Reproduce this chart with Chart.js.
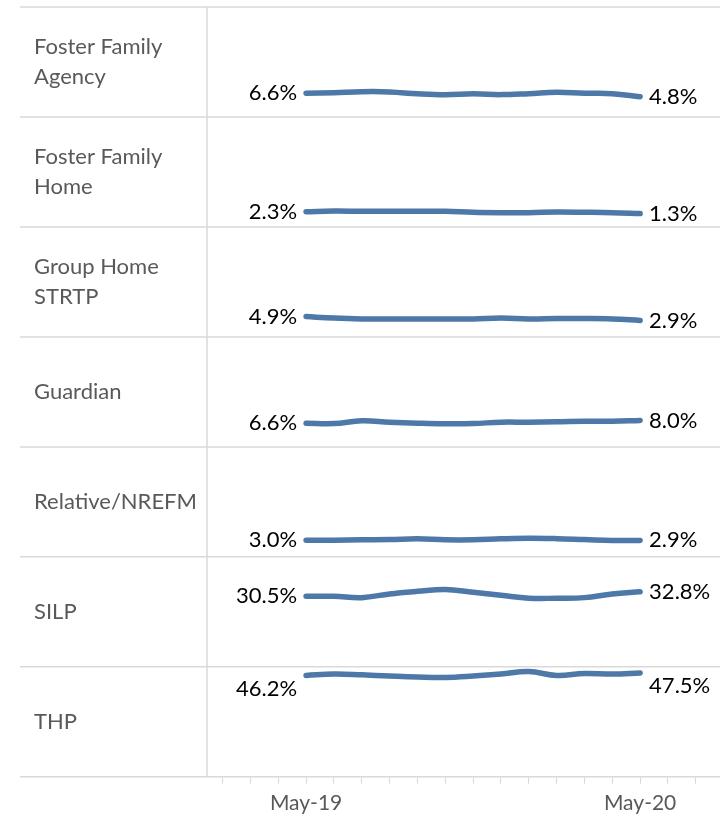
<!DOCTYPE html>
<html>
<head>
<meta charset="utf-8">
<script src="https://cdn.jsdelivr.net/npm/chart.js@4"></script>
<style>
    html, body { margin: 0; padding: 0; background: #fff; }
    #wrap { width: 720px; height: 816px; }
</style>
</head>
<body>
<div id="wrap"><canvas id="placementChart"></canvas></div>
<script>
/* ======================================================
   DATA
====================================================== */
const months = [
    'May-19', 'Jun-19', 'Jul-19', 'Aug-19', 'Sep-19', 'Oct-19', 'Nov-19',
    'Dec-19', 'Jan-20', 'Feb-20', 'Mar-20', 'Apr-20', 'May-20'
];

const categories = [
    ['Foster Family', 'Agency'],
    ['Foster Family', 'Home'],
    ['Group Home', 'STRTP'],
    ['Guardian'],
    ['Relative/NREFM'],
    ['SILP'],
    ['THP']
];

const fosterFamilyAgency = [6.6, 6.9, 7.4, 7.3, 6.3, 5.8, 6.3, 5.9, 6.4, 7.1, 6.6, 6.4, 4.8];
const fosterFamilyHome   = [2.3, 2.6, 2.5, 2.5, 2.5, 2.5, 2.0, 1.8, 1.8, 2.1, 2.0, 1.8, 1.3];
const groupHomeStrtp     = [4.9, 4.1, 3.7, 3.7, 3.7, 3.7, 3.7, 4.2, 3.7, 3.9, 3.9, 3.7, 2.9];
const guardian           = [6.6, 6.4, 7.8, 7.1, 6.6, 6.3, 6.4, 7.1, 7.1, 7.3, 7.6, 7.6, 8.0];
const relativeNrefm      = [3.0, 3.0, 3.2, 3.3, 3.7, 3.2, 3.2, 3.7, 4.0, 3.8, 3.3, 2.8, 2.9];
const silp               = [30.5, 30.5, 29.8, 31.7, 33.0, 34.0, 32.5, 31.0, 29.5, 29.5, 29.8, 31.7, 32.8];
const thp                = [46.2, 46.9, 46.5, 45.9, 45.4, 45.2, 45.9, 46.9, 48.2, 46.2, 47.2, 46.9, 47.5];

const series = [
    fosterFamilyAgency, fosterFamilyHome, groupHomeStrtp, guardian,
    relativeNrefm, silp, thp
];

/* ======================================================
   STYLE
====================================================== */
const LINE_COLOR = '#4e78a8';
const GRID_COLOR = '#d9d9d9';
const FONT = 'Lato, "Open Sans", sans-serif';

/* ======================================================
   SCALES (one stacked y axis per panel)
====================================================== */
const scales = {
    x: {
        type: 'linear',
        min: -3.56,
        max: 14.87,
        grid: {
            drawOnChartArea: false,
            color: GRID_COLOR,
            tickColor: GRID_COLOR,
            tickLength: 7
        },
        border: { color: GRID_COLOR, width: 1.5 },
        ticks: {
            stepSize: 1,
            autoSkip: false,
            includeBounds: false,
            maxRotation: 0,
            padding: 7,
            color: '#595959',
            font: { family: FONT, size: 21 },
            callback: v => (v === 0 || v === 12) ? months[v] : ''
        }
    }
};

// stacked axes are laid out last-defined on top, so add them bottom-up
for (let i = series.length - 1; i >= 0; i--) {
    scales['y' + i] = {
        type: 'linear',
        stack: 'panels',
        stackWeight: 1,
        min: -5.5,
        max: 50.6,
        grid: { display: false, drawTicks: false },
        border: { display: false },
        ticks: { display: false }
    };
}

/* ======================================================
   PLUGINS
====================================================== */
const panelFrame = {
    id: 'panelFrame',
    beforeDatasetsDraw(chart) {
        const { ctx, chartArea } = chart;
        ctx.save();
        ctx.strokeStyle = GRID_COLOR;
        ctx.lineWidth = 1.5;

        series.forEach((s, i) => {
            const axis = chart.scales['y' + i];
            ctx.beginPath();
            ctx.moveTo(20, axis.top);
            ctx.lineTo(chart.width, axis.top);
            ctx.stroke();
        });

        ctx.beginPath();
        ctx.moveTo(20, chartArea.bottom);
        ctx.lineTo(chartArea.left, chartArea.bottom);
        ctx.stroke();

        ctx.beginPath();
        ctx.moveTo(chartArea.left, chartArea.top);
        ctx.lineTo(chartArea.left, chartArea.bottom);
        ctx.stroke();

        // category names, centred in each panel
        ctx.fillStyle = '#595959';
        ctx.font = '22px ' + FONT;
        ctx.textAlign = 'left';
        ctx.textBaseline = 'middle';
        const lineH = 30;
        categories.forEach((lines, i) => {
            const axis = chart.scales['y' + i];
            const mid = (axis.top + axis.bottom) / 2;
            const y0 = mid - (lines.length - 1) * lineH / 2;
            lines.forEach((t, k) => ctx.fillText(t, 34, y0 + k * lineH));
        });
        ctx.restore();
    }
};

const endLabels = {
    id: 'endLabels',
    afterDatasetsDraw(chart) {
        const { ctx } = chart;
        ctx.save();
        ctx.fillStyle = '#000';
        ctx.font = '22px ' + FONT;
        ctx.textBaseline = 'middle';

        chart.data.datasets.forEach((ds, i) => {
            const pts = chart.getDatasetMeta(i).data;
            const first = pts[0];
            const last = pts[pts.length - 1];
            const dy = ds.labelBelow ? 13 : 0;

            ctx.textAlign = 'right';
            ctx.fillText(series[i][0].toFixed(1) + '%', first.x - 9, first.y + dy);
            ctx.textAlign = 'left';
            ctx.fillText(series[i][series[i].length - 1].toFixed(1) + '%', last.x + 9, last.y + dy);
        });
        ctx.restore();
    }
};

/* ======================================================
   CHART
====================================================== */
const ctx = document.getElementById('placementChart').getContext('2d');

new Chart(ctx, {
    type: 'line',
    data: {
        datasets: series.map((s, i) => ({
            label: categories[i].join(' '),
            data: s.map((v, k) => ({ x: k, y: v })),
            yAxisID: 'y' + i,
            borderColor: LINE_COLOR,
            borderWidth: 5.5,
            borderCapStyle: 'round',
            borderJoinStyle: 'round',
            tension: 0.4,
            pointRadius: 0,
            fill: false,
            labelBelow: i === series.length - 1
        }))
    },
    options: {
        responsive: true,
        maintainAspectRatio: false,
        animation: false,
        layout: {
            padding: { left: 207, top: 7, right: 0, bottom: -7 }
        },
        plugins: {
            legend: { display: false },
            tooltip: { enabled: false }
        },
        scales
    },
    plugins: [panelFrame, endLabels]
});
</script>
</body>
</html>
